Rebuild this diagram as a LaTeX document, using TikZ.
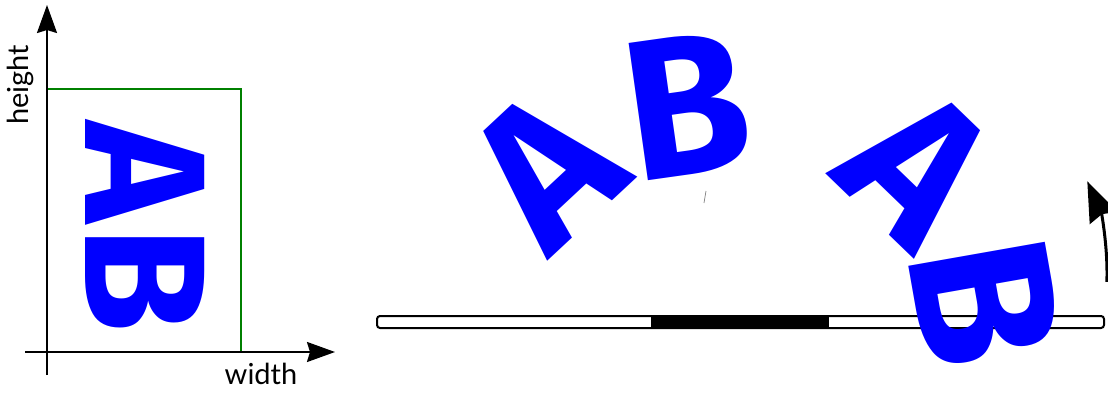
\documentclass[tikz,border=0pt]{standalone}
\usepackage{fontspec}
\setmainfont{Lato}
\newfontfamily\bigfont{Fira Sans}
\usetikzlibrary{arrows.meta}
\definecolor{rectgreen}{RGB}{0,128,0}
\begin{document}
\begin{tikzpicture}[x=1pt,y=1pt,
  axis/.style={line width=2pt,-{Stealth[length=28pt,width=20pt,inset=3pt]}},
  letterL/.style={inner sep=0pt,text=blue,font=\bigfont\bfseries\fontsize{172}{172}\selectfont},
  letterR/.style={inner sep=0pt,text=blue,font=\bigfont\bfseries\fontsize{200}{200}\selectfont},
  lbl/.style={inner sep=0pt,font=\fontsize{29}{29}\selectfont},
  barstyle/.style={line width=2pt,rounded corners=3pt,fill=white},
  rotarrow/.style={line width=3pt,-{Stealth[length=40pt,width=30pt,inset=4pt]}}]
\useasboundingbox (0,0) rectangle (1108,392);
% left panel
\coordinate (vb) at (47,17);
\coordinate (vt) at (47,387);
\coordinate (hl) at (25,40);
\coordinate (hr) at (335,40);
\coordinate (r1) at (47,40);
\coordinate (r2) at (241,303);
\draw[rectgreen,line width=2pt] (r1) |- (r2) |- (r1);
\draw[axis] (vb) -- (vt);
\draw[axis] (hl) -- (hr);
\node[lbl,rotate=90] (hlab) at (20,307) {height};
\node[lbl] (wlab) at (261,18) {width};
\node[letterL,rotate=-90] (la) at (145,220) {A};
\node[letterL,rotate=-90] (lb) at (145,112) {B};
% right panel
\coordinate (bl) at (377,64);
\coordinate (br) at (1104,76);
\coordinate (kl) at (651,65);
\coordinate (kr) at (829,75);
\draw[barstyle] (bl) rectangle (br);
\fill[black] (kl) rectangle (kr);
\node[letterR,rotate=43] (a1) at (545,223) {A};
\node[letterR,rotate=8] (b1) at (687,287) {B};
\node[letterR,rotate=-44] (a2) at (918,225) {A};
\node[letterR,rotate=-80] (b2) at (985,90) {B};
\coordinate (m1) at (706,201);
\coordinate (m2) at (704,189);
\draw[gray,line width=0.7pt] (m1) -- (m2);
\coordinate (rc) at (879,118);
\draw[rotarrow] (rc) ++(-2:228) arc[start angle=-2,end angle=24,radius=228];
\end{tikzpicture}
\end{document}
